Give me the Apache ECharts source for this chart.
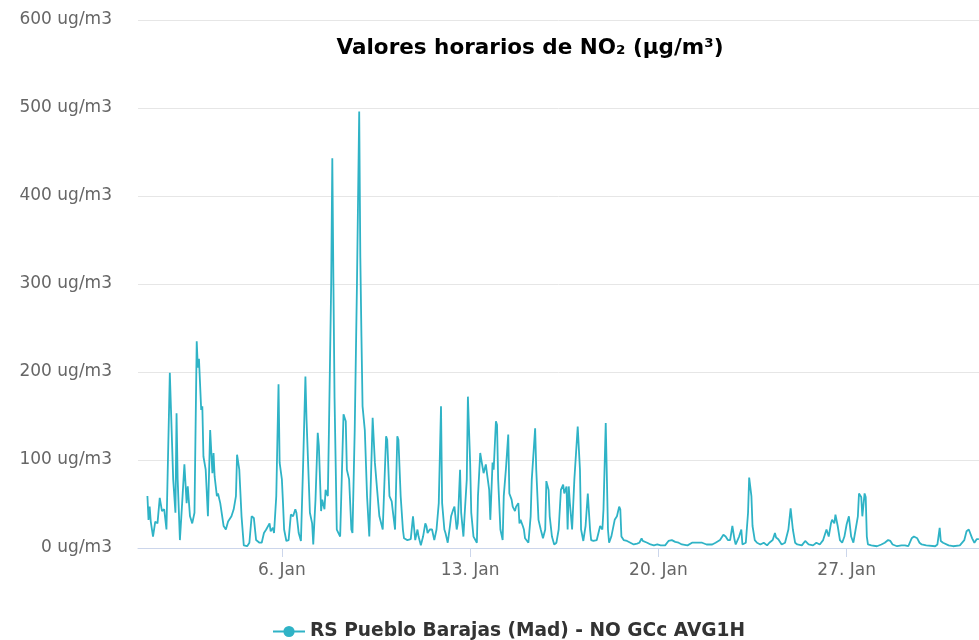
<!DOCTYPE html>
<html>
<head>
<meta charset="utf-8">
<title>Valores horarios de NO2</title>
<script src="https://cdn.jsdelivr.net/npm/echarts@6/dist/echarts.min.js"></script>
<style>
    html, body { margin: 0; padding: 0; background: #fff; }
    #main { width: 979px; height: 640px; }
</style>
</head>
<body>
<div id="main"></div>
<script>
// horas desde el 1 de enero 00:00 y valor leido (ug/m3)
let hours = [0, 1, 2, 3, 5, 7, 9, 11, 13, 15, 17, 20, 23, 25, 26, 27, 29, 31, 33, 35, 36, 38, 40, 42, 44, 45, 46, 48, 49, 50,
    52, 54, 56, 58, 59, 60, 62, 63, 65, 68, 70, 72, 75, 77, 79, 80, 82, 84, 86, 89, 91, 93, 95, 97, 100, 102, 104, 106, 107, 109,
    110, 112, 113, 115, 117, 118, 120, 121, 122, 124, 126, 128, 130, 132, 133, 135, 137, 139, 141, 142, 143, 145, 147, 148, 150, 152, 153, 155, 156, 158,
    159, 161, 162, 164, 165, 166, 167, 169, 172, 173, 175, 177, 178, 180, 182, 183, 185, 187, 189, 190, 191, 192, 194, 196, 198, 201, 203, 205, 207, 210,
    213, 214, 216, 218, 219, 221, 223, 224, 226, 228, 229, 232, 235, 237, 239, 241, 242, 244, 246, 248, 249, 250, 252, 254, 256, 258, 260, 262, 263, 265,
    266, 268, 270, 271, 273, 274, 276, 277, 279, 280, 282, 283, 285, 286, 288, 289, 291, 294, 295, 297, 298, 300, 302, 303, 305, 306, 308, 309, 311, 312,
    313, 315, 317, 318, 320, 322, 323, 325, 326, 328, 329, 331, 332, 333, 335, 336, 337, 340, 342, 343, 346, 347, 349, 351, 353, 355, 356, 358, 359, 361,
    363, 365, 367, 369, 371, 372, 374, 375, 376, 377, 379, 381, 384, 386, 387, 389, 391, 393, 395, 396, 398, 401, 404, 406, 407, 409, 410, 411, 412, 414,
    417, 419, 421, 422, 423, 425, 428, 431, 434, 437, 439, 441, 442, 446, 449, 452, 455, 458, 462, 465, 468, 471, 474, 477, 482, 486, 490, 495, 499, 504,
    507, 511, 514, 516, 518, 520, 522, 524, 525, 528, 530, 531, 534, 536, 537, 539, 540, 542, 544, 547, 550, 553, 555, 558, 560, 561, 563, 566, 569, 572,
    574, 576, 578, 580, 584, 587, 590, 594, 597, 600, 603, 606, 608, 610, 611, 613, 614, 616, 618, 620, 622, 624, 626, 628, 630, 632, 634, 635, 637, 638,
    640, 641, 642, 643, 646, 651, 655, 658, 661, 663, 665, 669, 673, 676, 679, 682, 684, 687, 689, 691, 695, 703, 705, 707, 708, 710, 715, 719, 725, 729,
    731, 733, 736, 738, 740, 742];
let values = [59, 32, 47, 30, 13, 30, 28, 57, 42, 44, 21, 199, 78, 40, 153, 78, 9, 51, 95, 51, 70, 36, 28, 40, 235, 205, 215, 157, 161, 104,
    89, 36, 134, 85, 108, 81, 59, 62, 51, 25, 21, 30, 36, 44, 59, 106, 89, 36, 3, 2, 6, 36, 34, 9, 6, 6, 17, 21, 23, 28,
    19, 23, 17, 59, 186, 97, 78, 51, 21, 8, 9, 38, 36, 44, 40, 17, 8, 97, 195, 146, 148, 40, 28, 4, 55, 131, 116, 42, 55, 44,
    66, 59, 134, 300, 443, 300, 170, 21, 13, 59, 152, 144, 89, 78, 21, 17, 134, 300, 496, 330, 240, 161, 134, 59, 13, 148, 97, 66, 36, 21,
    127, 123, 59, 53, 42, 21, 127, 123, 59, 21, 11, 9, 10, 36, 9, 21, 13, 3, 13, 28, 25, 17, 21, 21, 9, 21, 51, 161, 51, 21,
    17, 6, 25, 36, 44, 47, 21, 28, 89, 40, 13, 36, 78, 172, 97, 40, 13, 6, 59, 108, 100, 85, 95, 85, 66, 32, 97, 89, 144, 140,
    78, 21, 9, 59, 91, 129, 62, 55, 47, 42, 47, 51, 28, 32, 25, 21, 11, 6, 36, 78, 136, 89, 32, 21, 11, 21, 76, 66, 36, 13,
    4, 6, 21, 66, 72, 62, 70, 21, 70, 51, 21, 78, 138, 89, 21, 8, 25, 62, 21, 9, 8, 9, 25, 21, 44, 142, 142, 21, 6, 13,
    32, 36, 47, 44, 13, 9, 8, 6, 4, 5, 6, 11, 8, 6, 4, 3, 4, 3, 3, 8, 9, 7, 6, 4, 3, 6, 6, 6, 4, 4,
    6, 9, 15, 13, 9, 9, 25, 9, 4, 13, 21, 4, 6, 40, 80, 59, 25, 9, 6, 4, 6, 3, 6, 9, 17, 12, 10, 4, 6, 21,
    45, 21, 6, 4, 3, 8, 4, 3, 6, 4, 9, 21, 13, 28, 32, 28, 38, 25, 9, 6, 13, 27, 36, 13, 6, 21, 36, 62, 58, 36,
    62, 58, 13, 4, 3, 2, 4, 6, 9, 8, 4, 2, 3, 3, 2, 11, 13, 11, 6, 4, 3, 2, 4, 23, 8, 6, 3, 2, 3, 9,
    19, 21, 11, 6, 10, 10];
let tickHours = [120, 288, 456, 624];
let tickLabels = ['6. Jan', '13. Jan', '20. Jan', '27. Jan'];
let seriesName = 'RS Pueblo Barajas (Mad) - NO GCc AVG1H';

let chart = echarts.init(document.getElementById('main'));
let lineData = hours.map((h, i) => [h, values[i]]);

let option = {
    animation: false,
    title: {
        text: 'Valores horarios de NO\u2082 (\u00b5g/m\u00b3)',
        left: 525,
        top: 32,
        textAlign: 'center',
        textStyle: {
            fontFamily: 'DejaVu Sans',
            fontWeight: 'bold',
            fontSize: 21.5,
            color: '#000'
        }
    },
    legend: {
        left: 267,
        top: 617,
        itemWidth: 32,
        itemHeight: 14,
        itemGap: 5,
        textStyle: {
            fontFamily: 'DejaVu Sans',
            fontWeight: 'bold',
            fontSize: 18.6,
            color: '#333'
        },
        data: [seriesName]
    },
    grid: {
        left: 138,
        right: 0,
        top: 20,
        bottom: 92
    },
    xAxis: {
        type: 'value',
        min: -8.4,
        max: 742.1,
        splitLine: { show: false },
        axisLine: { lineStyle: { color: '#ccd6eb', width: 1 } },
        axisTick: {
            customValues: tickHours,
            length: 9,
            lineStyle: { color: '#ccd6eb' }
        },
        axisLabel: {
            customValues: tickHours,
            margin: 14,
            fontFamily: 'DejaVu Sans',
            fontSize: 17,
            color: '#666',
            formatter: function (v) {
                let i = tickHours.indexOf(v);
                return i >= 0 ? tickLabels[i] : '';
            }
        }
    },
    yAxis: {
        type: 'value',
        min: 0,
        max: 600,
        interval: 100,
        axisLine: { show: false },
        axisTick: { show: false },
        splitLine: { lineStyle: { color: '#e6e6e6', width: 1 } },
        axisLabel: {
            margin: 26,
            fontFamily: 'DejaVu Sans',
            fontSize: 17,
            color: '#666',
            formatter: '{value} ug/m3'
        }
    },
    series: [{
        name: seriesName,
        type: 'line',
        data: lineData,
        symbol: 'circle',
        symbolSize: 10,
        showSymbol: false,
        lineStyle: { color: '#2fb3c6', width: 1.8 },
        itemStyle: { color: '#2fb3c6' }
    }]
};
chart.setOption(option);
</script>
</body>
</html>
